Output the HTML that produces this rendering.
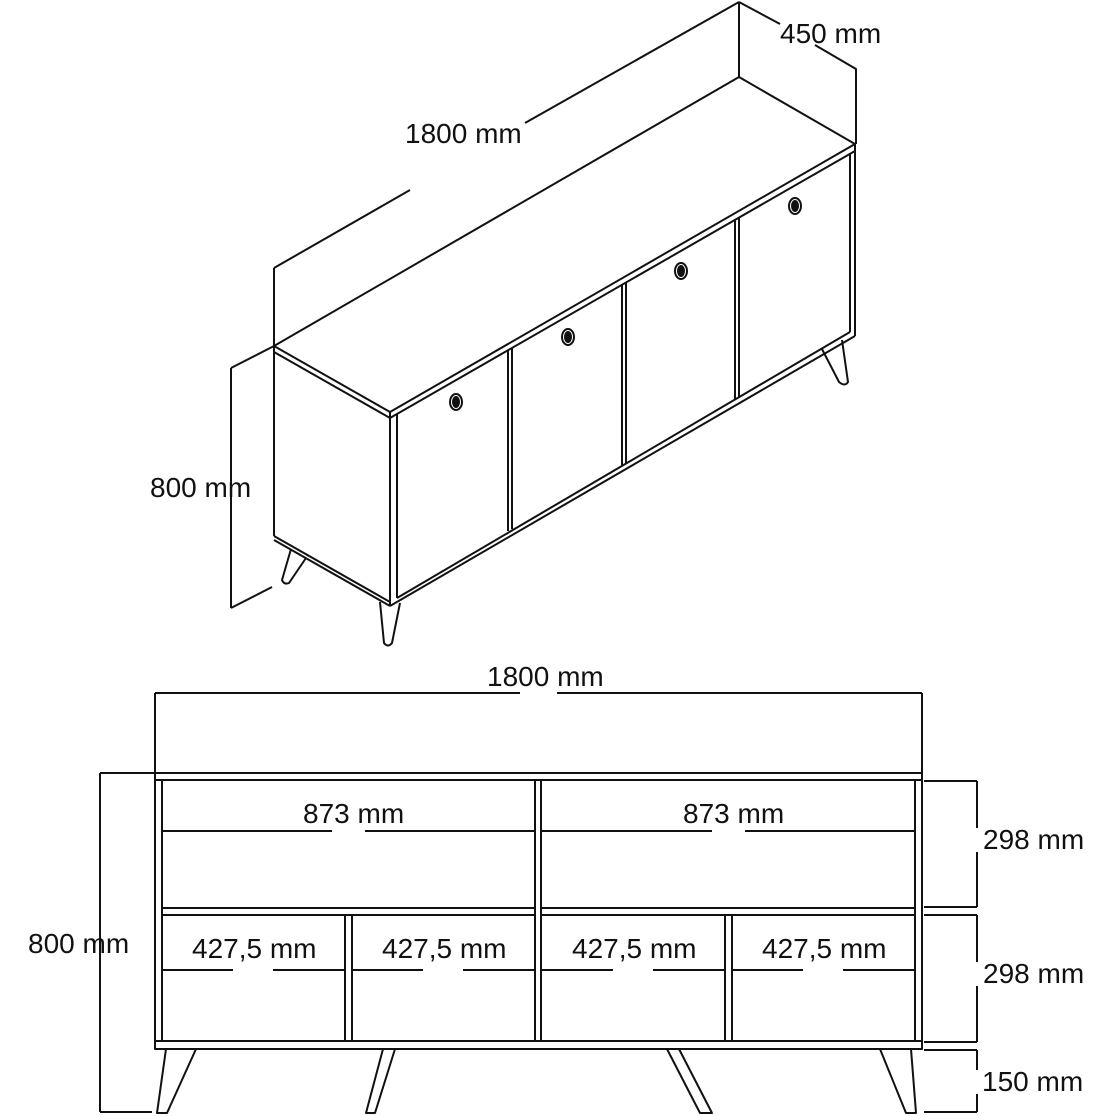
<!DOCTYPE html>
<html><head><style>
html,body{margin:0;padding:0;background:#fff;}
svg{display:block;}
text{font-family:"Liberation Sans","DejaVu Sans",sans-serif;font-size:28px;fill:#111;}
</style></head><body>
<svg width="1116" height="1116" viewBox="0 0 1116 1116" xmlns="http://www.w3.org/2000/svg">
<g fill="none" stroke="#111" stroke-width="2" stroke-linejoin="round">
<line x1="274" y1="346" x2="274" y2="268"/>
<line x1="739" y1="77" x2="739" y2="2"/>
<polyline points="274,268 410,190"/>
<polyline points="525,123 739,2"/>
<polyline points="739,2 780,24"/>
<polyline points="815,45 856,69 856,144"/>
<line x1="231" y1="368" x2="274" y2="346"/>
<line x1="231" y1="368" x2="231" y2="608"/>
<line x1="231" y1="608" x2="272" y2="587"/>
<polygon points="274,346 390,412 855,144 739,77" fill="#fff"/>
<polyline points="274,352 390,418 855,151"/>
<line x1="390" y1="412" x2="390" y2="418"/>
<line x1="274" y1="346" x2="274" y2="536"/>
<polyline points="274,536 390,602"/>
<line x1="274" y1="540" x2="390" y2="606"/>
<line x1="390" y1="418" x2="390" y2="606"/>
<line x1="397" y1="414" x2="397" y2="598"/>
<line x1="855" y1="144" x2="855" y2="336"/>
<line x1="850" y1="153" x2="850" y2="332"/>
<polyline points="390,606 855,336"/>
<polyline points="397,598 850,332"/>
<line x1="508" y1="350" x2="508" y2="531"/>
<line x1="512" y1="348" x2="512" y2="529"/>
<line x1="622" y1="284" x2="622" y2="465"/>
<line x1="626" y1="282" x2="626" y2="463"/>
<line x1="735" y1="219" x2="735" y2="399"/>
<line x1="739" y1="217" x2="739" y2="397"/>
<ellipse cx="456" cy="402" rx="6" ry="8"/>
<ellipse cx="456" cy="402" rx="3" ry="5" fill="#111"/>
<ellipse cx="568" cy="337" rx="6" ry="8"/>
<ellipse cx="568" cy="337" rx="3" ry="5" fill="#111"/>
<ellipse cx="681" cy="271" rx="6" ry="8"/>
<ellipse cx="681" cy="271" rx="3" ry="5" fill="#111"/>
<ellipse cx="795" cy="206" rx="6" ry="8"/>
<ellipse cx="795" cy="206" rx="3" ry="5" fill="#111"/>
<path d="M291,549 L282,580 Q284,585 289,583 L306,558"/>
<path d="M380,602 L384,643 Q388,648 392,643 L400,603"/>
<path d="M822,349 L839,382 Q845,387 848,382 L842,340"/>
<line x1="155" y1="773" x2="155" y2="693"/>
<line x1="922" y1="773" x2="922" y2="693"/>
<line x1="155" y1="693" x2="520" y2="693"/>
<line x1="557" y1="693" x2="922" y2="693"/>
<rect x="155" y="773" width="767" height="7"/>
<rect x="155" y="1041" width="767" height="8"/>
<line x1="155" y1="780" x2="155" y2="1041"/>
<line x1="162" y1="780" x2="162" y2="1041"/>
<line x1="915" y1="780" x2="915" y2="1041"/>
<line x1="922" y1="780" x2="922" y2="1041"/>
<line x1="535" y1="780" x2="535" y2="1041"/>
<line x1="541" y1="780" x2="541" y2="1041"/>
<line x1="162" y1="908" x2="535" y2="908"/>
<line x1="162" y1="915" x2="535" y2="915"/>
<line x1="541" y1="908" x2="915" y2="908"/>
<line x1="541" y1="915" x2="915" y2="915"/>
<line x1="345" y1="915" x2="345" y2="1041"/>
<line x1="352" y1="915" x2="352" y2="1041"/>
<line x1="725" y1="915" x2="725" y2="1041"/>
<line x1="732" y1="915" x2="732" y2="1041"/>
<line x1="162" y1="831" x2="332" y2="831"/>
<line x1="365" y1="831" x2="535" y2="831"/>
<line x1="541" y1="831" x2="712" y2="831"/>
<line x1="745" y1="831" x2="915" y2="831"/>
<line x1="162" y1="970" x2="233" y2="970"/>
<line x1="273" y1="970" x2="345" y2="970"/>
<line x1="352" y1="970" x2="423" y2="970"/>
<line x1="463" y1="970" x2="535" y2="970"/>
<line x1="541" y1="970" x2="613" y2="970"/>
<line x1="653" y1="970" x2="725" y2="970"/>
<line x1="732" y1="970" x2="803" y2="970"/>
<line x1="843" y1="970" x2="915" y2="970"/>
<polygon points="166,1049 196,1049 167,1113 157,1113"/>
<polygon points="383,1049 395,1049 375,1113 366,1113"/>
<polygon points="667,1049 679,1049 712,1113 700,1113"/>
<polygon points="880,1049 911,1049 916,1113 906,1113"/>
<line x1="100" y1="773" x2="155" y2="773"/>
<line x1="100" y1="1112" x2="152" y2="1112"/>
<line x1="100" y1="773" x2="100" y2="1112"/>
<line x1="924" y1="781" x2="977" y2="781"/>
<line x1="924" y1="907" x2="977" y2="907"/>
<line x1="924" y1="915" x2="977" y2="915"/>
<line x1="924" y1="1042" x2="977" y2="1042"/>
<line x1="924" y1="1050" x2="977" y2="1050"/>
<line x1="924" y1="1112" x2="977" y2="1112"/>
<line x1="977" y1="781" x2="977" y2="828"/>
<line x1="977" y1="852" x2="977" y2="907"/>
<line x1="977" y1="915" x2="977" y2="962"/>
<line x1="977" y1="986" x2="977" y2="1042"/>
<line x1="977" y1="1050" x2="977" y2="1070"/>
<line x1="977" y1="1094" x2="977" y2="1112"/>
</g>
<text x="780" y="43">450 mm</text>
<text x="405" y="143">1800 mm</text>
<text x="150" y="497">800 mm</text>
<text x="487" y="686">1800 mm</text>
<text x="303" y="823">873 mm</text>
<text x="683" y="823">873 mm</text>
<text x="192" y="958">427,5 mm</text>
<text x="382" y="958">427,5 mm</text>
<text x="572" y="958">427,5 mm</text>
<text x="762" y="958">427,5 mm</text>
<text x="28" y="953">800 mm</text>
<text x="983" y="849">298 mm</text>
<text x="983" y="983">298 mm</text>
<text x="982" y="1091">150 mm</text>
</svg>
</body></html>
